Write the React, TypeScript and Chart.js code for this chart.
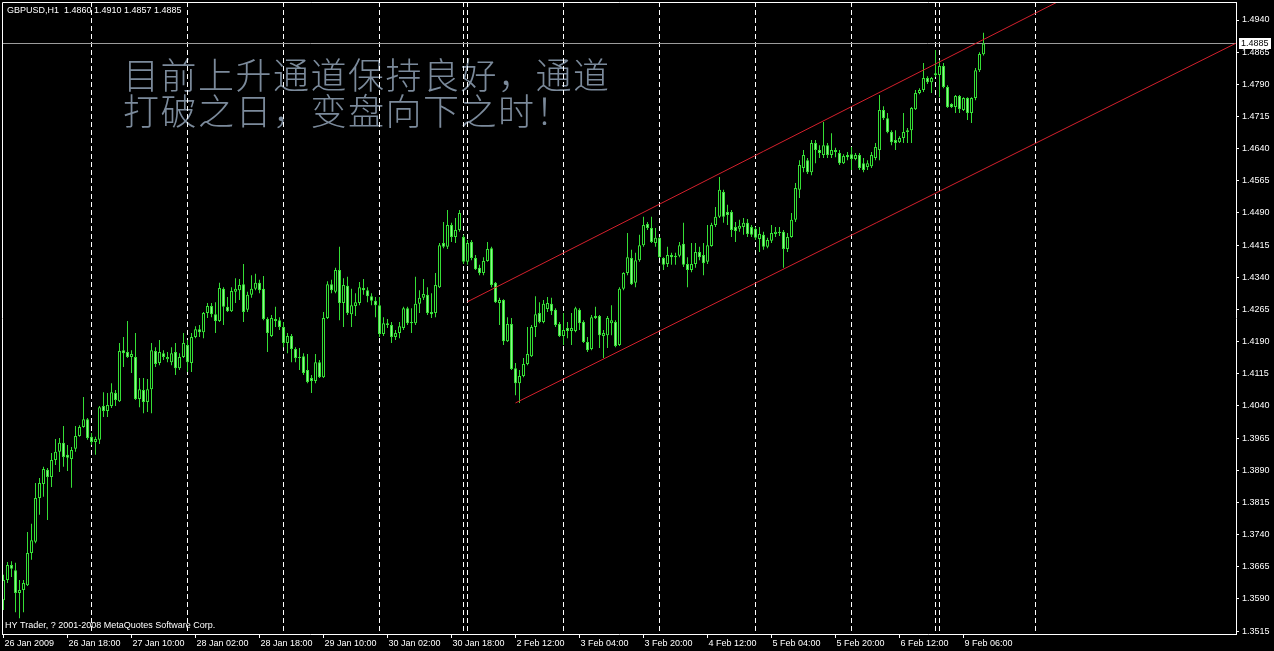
import React, { useEffect, useRef } from "react";
import { Chart, registerables } from "chart.js";

Chart.register(...registerables);

// ---- GBPUSD H1, 26 Jan 2009 02:00 .. 9 Feb 2009 11:00 (bar index = hour bar) ----
const SYMBOL = "GBPUSD,H1";
const COPYRIGHT = "HY Trader, ? 2001-2008 MetaQuotes Software Corp.";
const COMMENT_LINES = ["目前上升通道保持良好，通道", "打破之日，变盘向下之时！"];

const OPEN = [
  1.3587, 1.3634, 1.3669, 1.3657, 1.3604, 1.3611, 1.3622, 1.3697, 1.3723, 1.3825,
  1.3858, 1.3891, 1.3874, 1.3914, 1.3933, 1.3954, 1.3926, 1.3916, 1.3940, 1.3970,
  1.3991, 1.4009, 1.3968, 1.3956, 1.3961, 1.4040, 1.4028, 1.4040, 1.4070, 1.4051,
  1.4170, 1.4166, 1.4154, 1.4154, 1.4056, 1.4077, 1.4049, 1.4079, 1.4168, 1.4140,
  1.4163, 1.4149, 1.4142, 1.4166, 1.4128, 1.4154, 1.4182, 1.4140, 1.4201, 1.4219,
  1.4212, 1.4257, 1.4273, 1.4254, 1.4238, 1.4313, 1.4271, 1.4261, 1.4306, 1.4310,
  1.4324, 1.4264, 1.4299, 1.4313, 1.4327, 1.4313, 1.4243, 1.4203, 1.4243, 1.4240,
  1.4224, 1.4187, 1.4203, 1.4173, 1.4154, 1.4156, 1.4124, 1.4105, 1.4098, 1.4142,
  1.4107, 1.4245, 1.4324, 1.4306, 1.4357, 1.4280, 1.4320, 1.4254, 1.4273, 1.4280,
  1.4315, 1.4310, 1.4296, 1.4285, 1.4275, 1.4208, 1.4233, 1.4229, 1.4201, 1.4210,
  1.4222, 1.4268, 1.4236, 1.4233, 1.4278, 1.4292, 1.4299, 1.4259, 1.4257, 1.4317,
  1.4420, 1.4411, 1.4462, 1.4434, 1.4450, 1.4434, 1.4376, 1.4422, 1.4385, 1.4362,
  1.4350, 1.4378, 1.4408, 1.4327, 1.4280, 1.4287, 1.4191, 1.4231, 1.4128, 1.4093,
  1.4110, 1.4138, 1.4156, 1.4224, 1.4257, 1.4236, 1.4266, 1.4278, 1.4264, 1.4231,
  1.4203, 1.4222, 1.4215, 1.4215, 1.4264, 1.4236, 1.4189, 1.4173, 1.4250, 1.4250,
  1.4203, 1.4205, 1.4233, 1.4236, 1.4182, 1.4313, 1.4350, 1.4385, 1.4327, 1.4380,
  1.4415, 1.4464, 1.4455, 1.4420, 1.4432, 1.4385, 1.4371, 1.4392, 1.4387, 1.4390,
  1.4418, 1.4371, 1.4357, 1.4371, 1.4399, 1.4392, 1.4376, 1.4413, 1.4462, 1.4481,
  1.4539, 1.4492, 1.4492, 1.4457, 1.4453, 1.4457, 1.4467, 1.4457, 1.4453, 1.4429,
  1.4439, 1.4411, 1.4425, 1.4441, 1.4446, 1.4446, 1.4406, 1.4434, 1.4474, 1.4544,
  1.4595, 1.4613, 1.4585, 1.4653, 1.4637, 1.4625, 1.4648, 1.4625, 1.4637, 1.4630,
  1.4606, 1.4625, 1.4627, 1.4616, 1.4625, 1.4606, 1.4597, 1.4599, 1.4618, 1.4637,
  1.4730, 1.4711, 1.4679, 1.4660, 1.4655, 1.4665, 1.4679, 1.4683, 1.4732, 1.4770,
  1.4777, 1.4805, 1.4795, 1.4812, 1.4812, 1.4833, 1.4784, 1.4744, 1.4737, 1.4763,
  1.4730, 1.4758, 1.4723, 1.4758, 1.4823, 1.4860,
];

const HIGH = [
  1.3646, 1.3676, 1.3678, 1.3674, 1.3634, 1.3634, 1.3746, 1.3765, 1.3860, 1.3872,
  1.3898, 1.3895, 1.3930, 1.3963, 1.3965, 1.3993, 1.3949, 1.3944, 1.3993, 1.3995,
  1.4061, 1.4012, 1.3977, 1.3968, 1.4040, 1.4072, 1.4070, 1.4093, 1.4077, 1.4187,
  1.4201, 1.4238, 1.4170, 1.4210, 1.4105, 1.4105, 1.4103, 1.4187, 1.4177, 1.4194,
  1.4170, 1.4166, 1.4177, 1.4187, 1.4163, 1.4210, 1.4194, 1.4210, 1.4226, 1.4229,
  1.4259, 1.4280, 1.4280, 1.4282, 1.4327, 1.4317, 1.4294, 1.4317, 1.4338, 1.4336,
  1.4371, 1.4306, 1.4345, 1.4348, 1.4334, 1.4343, 1.4247, 1.4252, 1.4271, 1.4247,
  1.4236, 1.4210, 1.4208, 1.4177, 1.4175, 1.4163, 1.4161, 1.4112, 1.4161, 1.4147,
  1.4259, 1.4331, 1.4334, 1.4362, 1.4411, 1.4338, 1.4341, 1.4313, 1.4303, 1.4329,
  1.4336, 1.4317, 1.4303, 1.4294, 1.4294, 1.4247, 1.4243, 1.4236, 1.4217, 1.4236,
  1.4271, 1.4271, 1.4268, 1.4341, 1.4310, 1.4336, 1.4317, 1.4303, 1.4350, 1.4420,
  1.4469, 1.4497, 1.4467, 1.4478, 1.4497, 1.4439, 1.4427, 1.4427, 1.4392, 1.4369,
  1.4387, 1.4422, 1.4411, 1.4329, 1.4292, 1.4289, 1.4247, 1.4245, 1.4140, 1.4124,
  1.4152, 1.4224, 1.4229, 1.4296, 1.4282, 1.4287, 1.4294, 1.4292, 1.4268, 1.4236,
  1.4257, 1.4236, 1.4257, 1.4271, 1.4268, 1.4240, 1.4201, 1.4252, 1.4271, 1.4252,
  1.4217, 1.4250, 1.4275, 1.4240, 1.4317, 1.4352, 1.4443, 1.4404, 1.4397, 1.4439,
  1.4481, 1.4469, 1.4481, 1.4455, 1.4434, 1.4387, 1.4411, 1.4397, 1.4397, 1.4422,
  1.4467, 1.4387, 1.4420, 1.4420, 1.4411, 1.4420, 1.4462, 1.4467, 1.4504, 1.4574,
  1.4544, 1.4509, 1.4497, 1.4469, 1.4474, 1.4478, 1.4476, 1.4462, 1.4457, 1.4457,
  1.4446, 1.4432, 1.4462, 1.4457, 1.4457, 1.4450, 1.4443, 1.4490, 1.4560, 1.4613,
  1.4637, 1.4618, 1.4660, 1.4660, 1.4648, 1.4702, 1.4653, 1.4676, 1.4642, 1.4637,
  1.4627, 1.4632, 1.4644, 1.4630, 1.4630, 1.4618, 1.4613, 1.4632, 1.4653, 1.4765,
  1.4739, 1.4723, 1.4683, 1.4683, 1.4669, 1.4723, 1.4688, 1.4737, 1.4777, 1.4781,
  1.4840, 1.4809, 1.4807, 1.4870, 1.4847, 1.4840, 1.4788, 1.4746, 1.4765, 1.4765,
  1.4760, 1.4760, 1.4760, 1.4828, 1.4865, 1.4910,
];

const LOW = [
  1.3564, 1.3627, 1.3641, 1.3559, 1.3545, 1.3559, 1.3620, 1.3681, 1.3720, 1.3786,
  1.3828, 1.3774, 1.3851, 1.3902, 1.3886, 1.3898, 1.3888, 1.3849, 1.3933, 1.3968,
  1.3989, 1.3961, 1.3949, 1.3926, 1.3951, 1.4014, 1.4014, 1.4035, 1.4040, 1.4049,
  1.4131, 1.4152, 1.4117, 1.4054, 1.4037, 1.4023, 1.4026, 1.4023, 1.4131, 1.4135,
  1.4147, 1.4142, 1.4135, 1.4112, 1.4124, 1.4152, 1.4119, 1.4119, 1.4198, 1.4201,
  1.4198, 1.4245, 1.4247, 1.4210, 1.4236, 1.4229, 1.4259, 1.4259, 1.4280, 1.4287,
  1.4236, 1.4259, 1.4292, 1.4310, 1.4303, 1.4240, 1.4166, 1.4201, 1.4224, 1.4217,
  1.4177, 1.4163, 1.4142, 1.4142, 1.4124, 1.4112, 1.4093, 1.4070, 1.4093, 1.4105,
  1.4105, 1.4243, 1.4303, 1.4303, 1.4240, 1.4224, 1.4252, 1.4224, 1.4250, 1.4275,
  1.4299, 1.4282, 1.4275, 1.4247, 1.4201, 1.4203, 1.4222, 1.4187, 1.4194, 1.4198,
  1.4217, 1.4229, 1.4210, 1.4229, 1.4257, 1.4287, 1.4252, 1.4245, 1.4247, 1.4315,
  1.4408, 1.4406, 1.4422, 1.4420, 1.4446, 1.4371, 1.4369, 1.4380, 1.4357, 1.4345,
  1.4345, 1.4376, 1.4317, 1.4280, 1.4229, 1.4182, 1.4189, 1.4124, 1.4065, 1.4047,
  1.4107, 1.4135, 1.4154, 1.4201, 1.4233, 1.4233, 1.4259, 1.4252, 1.4224, 1.4201,
  1.4182, 1.4198, 1.4182, 1.4212, 1.4217, 1.4187, 1.4166, 1.4170, 1.4243, 1.4175,
  1.4152, 1.4175, 1.4205, 1.4177, 1.4180, 1.4310, 1.4345, 1.4322, 1.4317, 1.4376,
  1.4411, 1.4450, 1.4420, 1.4411, 1.4385, 1.4357, 1.4364, 1.4369, 1.4369, 1.4387,
  1.4364, 1.4317, 1.4352, 1.4362, 1.4380, 1.4345, 1.4371, 1.4411, 1.4457, 1.4478,
  1.4467, 1.4462, 1.4434, 1.4422, 1.4446, 1.4439, 1.4434, 1.4434, 1.4427, 1.4399,
  1.4404, 1.4408, 1.4420, 1.4434, 1.4436, 1.4362, 1.4399, 1.4432, 1.4469, 1.4525,
  1.4585, 1.4581, 1.4578, 1.4606, 1.4618, 1.4618, 1.4618, 1.4618, 1.4620, 1.4602,
  1.4604, 1.4613, 1.4590, 1.4613, 1.4590, 1.4585, 1.4590, 1.4595, 1.4613, 1.4613,
  1.4707, 1.4676, 1.4648, 1.4637, 1.4653, 1.4653, 1.4653, 1.4653, 1.4730, 1.4767,
  1.4772, 1.4791, 1.4770, 1.4807, 1.4760, 1.4781, 1.4735, 1.4735, 1.4723, 1.4723,
  1.4728, 1.4707, 1.4700, 1.4753, 1.4819, 1.4857,
];

const CLOSE = [
  1.3634, 1.3669, 1.3660, 1.3604, 1.3611, 1.3627, 1.3697, 1.3727, 1.3825, 1.3860,
  1.3893, 1.3874, 1.3914, 1.3933, 1.3954, 1.3921, 1.3919, 1.3937, 1.3970, 1.3991,
  1.4009, 1.3965, 1.3956, 1.3963, 1.4037, 1.4028, 1.4042, 1.4072, 1.4054, 1.4168,
  1.4163, 1.4154, 1.4161, 1.4056, 1.4079, 1.4049, 1.4079, 1.4170, 1.4138, 1.4166,
  1.4154, 1.4154, 1.4163, 1.4128, 1.4154, 1.4187, 1.4142, 1.4201, 1.4219, 1.4212,
  1.4257, 1.4273, 1.4254, 1.4238, 1.4315, 1.4271, 1.4261, 1.4308, 1.4313, 1.4322,
  1.4259, 1.4299, 1.4313, 1.4327, 1.4310, 1.4243, 1.4210, 1.4245, 1.4238, 1.4224,
  1.4187, 1.4203, 1.4173, 1.4152, 1.4152, 1.4117, 1.4096, 1.4098, 1.4142, 1.4107,
  1.4245, 1.4324, 1.4310, 1.4357, 1.4280, 1.4322, 1.4257, 1.4275, 1.4282, 1.4317,
  1.4310, 1.4296, 1.4285, 1.4275, 1.4208, 1.4233, 1.4229, 1.4201, 1.4210, 1.4226,
  1.4268, 1.4233, 1.4233, 1.4278, 1.4292, 1.4301, 1.4257, 1.4254, 1.4322, 1.4415,
  1.4411, 1.4462, 1.4434, 1.4450, 1.4490, 1.4376, 1.4420, 1.4385, 1.4359, 1.4350,
  1.4378, 1.4406, 1.4322, 1.4282, 1.4287, 1.4191, 1.4231, 1.4126, 1.4093, 1.4110,
  1.4138, 1.4161, 1.4224, 1.4254, 1.4236, 1.4278, 1.4280, 1.4261, 1.4229, 1.4203,
  1.4217, 1.4215, 1.4222, 1.4268, 1.4233, 1.4189, 1.4170, 1.4247, 1.4245, 1.4205,
  1.4210, 1.4245, 1.4240, 1.4180, 1.4313, 1.4350, 1.4387, 1.4324, 1.4380, 1.4415,
  1.4462, 1.4455, 1.4422, 1.4432, 1.4387, 1.4369, 1.4392, 1.4387, 1.4390, 1.4415,
  1.4369, 1.4357, 1.4371, 1.4399, 1.4387, 1.4373, 1.4415, 1.4462, 1.4481, 1.4544,
  1.4481, 1.4485, 1.4450, 1.4448, 1.4460, 1.4467, 1.4441, 1.4439, 1.4432, 1.4441,
  1.4411, 1.4427, 1.4443, 1.4446, 1.4443, 1.4406, 1.4434, 1.4474, 1.4548, 1.4602,
  1.4625, 1.4585, 1.4653, 1.4637, 1.4630, 1.4648, 1.4625, 1.4637, 1.4632, 1.4606,
  1.4623, 1.4620, 1.4616, 1.4625, 1.4595, 1.4590, 1.4606, 1.4625, 1.4644, 1.4730,
  1.4711, 1.4679, 1.4655, 1.4653, 1.4665, 1.4679, 1.4683, 1.4735, 1.4770, 1.4777,
  1.4805, 1.4795, 1.4805, 1.4816, 1.4833, 1.4784, 1.4737, 1.4737, 1.4763, 1.4732,
  1.4758, 1.4723, 1.4758, 1.4823, 1.4861, 1.4885,
];

// time axis: one label every 16 hourly bars
const TIME_TICK_BARS = [0, 16, 32, 48, 64, 80, 96, 112, 128, 144, 160, 176, 192, 208, 224, 240];
const TIME_LABELS = [
  "26 Jan 2009", "26 Jan 18:00", "27 Jan 10:00", "28 Jan 02:00", "28 Jan 18:00",
  "29 Jan 10:00", "30 Jan 02:00", "30 Jan 18:00", "2 Feb 12:00", "3 Feb 04:00",
  "3 Feb 20:00", "4 Feb 12:00", "5 Feb 04:00", "5 Feb 20:00", "6 Feb 12:00", "9 Feb 06:00",
];

// price axis labels
const PRICE_TICKS = [
  1.3515, 1.359, 1.3665, 1.374, 1.3815, 1.389, 1.3965, 1.404, 1.4115, 1.419,
  1.4265, 1.434, 1.4415, 1.449, 1.4565, 1.464, 1.4715, 1.479, 1.4865, 1.494,
];

// day separators (bar index of each new trading day)
const SEPARATOR_BARS = [22, 46, 70, 94, 115, 116, 140, 164, 188, 212, 233, 234, 258];

// rising channel anchors (bar index, price)
const UPPER_CHANNEL_BARS = [116, 266];
const UPPER_CHANNEL_PRICES = [1.4283, 1.4994];
const LOWER_CHANNEL_BARS = [128, 309];
const LOWER_CHANNEL_PRICES = [1.4047, 1.489];

// visible window
const X_MIN = -0.375;
const X_MAX = 308.125;
const Y_MIN = 1.35081;
const Y_MAX = 1.4982;

const GREEN = "#35de35";
const BEAR_FILL = "#8ef58e";
const CHANNEL_RED = "#d4202c";
const AXIS_FONT = { family: "'Liberation Sans', Arial, sans-serif", size: 9 };

const noEdgePadding = (s: any) => {
  s.paddingTop = 0;
  s.paddingBottom = 0;
  s.paddingLeft = 0;
  s.paddingRight = 0;
};

const mtOverlay = {
  id: "mtOverlay",
  beforeDatasetsDraw(chart: any) {
    const { ctx, chartArea, scales } = chart;
    const xs = scales.x;
    const ys = scales.y;
    ctx.save();

    // chart comment
    ctx.font = "300 36px 'Noto Sans CJK SC', sans-serif";
    ctx.fillStyle = "#7b8a9b";
    ctx.textAlign = "left";
    ctx.textBaseline = "alphabetic";
    (ctx as any).letterSpacing = "1.5px";
    ctx.fillText(COMMENT_LINES[0], chartArea.left + 121, chartArea.top + 86.5);
    ctx.fillText(COMMENT_LINES[1], chartArea.left + 121, chartArea.top + 123);
    (ctx as any).letterSpacing = "0px";

    // period separators
    ctx.beginPath();
    ctx.rect(chartArea.left, chartArea.top, chartArea.right - chartArea.left, chartArea.bottom - chartArea.top);
    ctx.clip();
    ctx.strokeStyle = "#ffffff";
    ctx.lineWidth = 1;
    ctx.setLineDash([5, 3]);
    for (const b of SEPARATOR_BARS) {
      const px = Math.floor(xs.getPixelForValue(b)) + 0.5;
      if (px < chartArea.left || px > chartArea.right) continue;
      ctx.beginPath();
      ctx.moveTo(px, chartArea.top);
      ctx.lineTo(px, chartArea.bottom);
      ctx.stroke();
    }
    ctx.setLineDash([]);

    // last price line
    const last = CLOSE.length - 1;
    const py = Math.floor(ys.getPixelForValue(CLOSE[last])) + 0.5;
    ctx.strokeStyle = "#9c9c9c";
    ctx.beginPath();
    ctx.moveTo(chartArea.left, py);
    ctx.lineTo(chartArea.right, py);
    ctx.stroke();
    ctx.restore();
  },
  afterDraw(chart: any) {
    const { ctx, chartArea, scales } = chart;
    const ys = scales.y;
    const last = CLOSE.length - 1;
    ctx.save();

    // frame (top + left edges; right and bottom come from the axes)
    ctx.strokeStyle = "#ffffff";
    ctx.lineWidth = 1;
    ctx.beginPath();
    ctx.moveTo(chartArea.left + 0.5, chartArea.bottom);
    ctx.lineTo(chartArea.left + 0.5, chartArea.top + 0.5);
    ctx.lineTo(chartArea.right + 1, chartArea.top + 0.5);
    ctx.stroke();

    // header and copyright
    ctx.font = `${AXIS_FONT.size}px ${AXIS_FONT.family}`;
    ctx.fillStyle = "#ffffff";
    ctx.textAlign = "left";
    ctx.textBaseline = "middle";
    const header = `${SYMBOL}  ${OPEN[last].toFixed(4)} ${HIGH[last].toFixed(4)} ${LOW[last].toFixed(4)} ${CLOSE[last].toFixed(4)}`;
    ctx.fillText(header, chartArea.left + 5, chartArea.top + 9);
    ctx.fillText(COPYRIGHT, chartArea.left + 3, chartArea.bottom - 8);

    // last price marker on the price axis
    const py = ys.getPixelForValue(CLOSE[last]);
    const bx = chartArea.right + 3;
    ctx.fillStyle = "#ffffff";
    ctx.fillRect(bx, Math.round(py) - 6, 32, 11);
    ctx.fillStyle = "#000000";
    ctx.fillText(CLOSE[last].toFixed(4), bx + 2, Math.round(py));
    ctx.restore();
  },
};

export default function App() {
  const canvasRef = useRef<HTMLCanvasElement | null>(null);

  useEffect(() => {
    document.body.style.margin = "0";
    document.body.style.background = "#000";
    const canvas = canvasRef.current;
    if (!canvas) return;

    const idx = OPEN.map((_, i) => i);
    const wickData = idx.map((i) => ({ x: i, y: [LOW[i], HIGH[i]] }));
    const bodyData = idx.map((i) => ({ x: i, y: [OPEN[i], CLOSE[i]] }));
    const bodyFill = idx.map((i) => (CLOSE[i] >= OPEN[i] ? "#000000" : BEAR_FILL));

    const chart = new Chart(canvas, {
      type: "bar",
      data: {
        datasets: [
          {
            type: "bar",
            label: "wick",
            data: wickData as any,
            backgroundColor: GREEN,
            borderWidth: 0,
            barThickness: 1,
            grouped: false,
            inflateAmount: 0,
            order: 3,
          } as any,
          {
            type: "bar",
            label: "body",
            data: bodyData as any,
            backgroundColor: bodyFill,
            borderColor: GREEN,
            borderWidth: 1,
            borderSkipped: false,
            barThickness: 3,
            minBarLength: 1,
            grouped: false,
            inflateAmount: 0,
            order: 2,
          } as any,
          {
            type: "line",
            label: "upper",
            data: UPPER_CHANNEL_BARS.map((b, i) => ({ x: b, y: UPPER_CHANNEL_PRICES[i] })),
            borderColor: CHANNEL_RED,
            borderWidth: 1,
            pointRadius: 0,
            order: 1,
          } as any,
          {
            type: "line",
            label: "lower",
            data: LOWER_CHANNEL_BARS.map((b, i) => ({ x: b, y: LOWER_CHANNEL_PRICES[i] })),
            borderColor: CHANNEL_RED,
            borderWidth: 1,
            pointRadius: 0,
            order: 1,
          } as any,
        ],
      },
      options: {
        animation: false,
        responsive: false,
        maintainAspectRatio: false,
        events: [],
        layout: { padding: { left: 2, top: 2, right: 0, bottom: 0 } },
        plugins: { legend: { display: false }, tooltip: { enabled: false } },
        scales: {
          x: {
            type: "linear",
            min: X_MIN,
            max: X_MAX,
            bounds: "data",
            offset: false,
            afterBuildTicks: (s: any) => {
              s.ticks = TIME_TICK_BARS.map((v) => ({ value: v }));
            },
            afterFit: (s: any) => {
              s.height = 17;
              noEdgePadding(s);
            },
            ticks: {
              autoSkip: false,
              maxRotation: 0,
              minRotation: 0,
              align: "start",
              labelOffset: 1,
              padding: 0,
              color: "#ffffff",
              font: AXIS_FONT,
              callback: (_v: any, i: number) => TIME_LABELS[i],
            },
            grid: { drawOnChartArea: false, drawTicks: true, tickLength: 4, color: "#ffffff", offset: false },
            border: { display: true, color: "#ffffff" },
          },
          y: {
            type: "linear",
            position: "right",
            min: Y_MIN,
            max: Y_MAX,
            bounds: "data",
            afterBuildTicks: (s: any) => {
              s.ticks = PRICE_TICKS.map((v) => ({ value: v }));
            },
            afterFit: (s: any) => {
              s.width = 38;
              noEdgePadding(s);
            },
            ticks: {
              autoSkip: false,
              padding: 3,
              color: "#ffffff",
              font: AXIS_FONT,
              callback: (v: any) => Number(v).toFixed(4),
            },
            grid: { drawOnChartArea: false, drawTicks: true, tickLength: 3, color: "#ffffff" },
            border: { display: true, color: "#ffffff" },
          },
        },
      },
      plugins: [mtOverlay],
    });

    return () => chart.destroy();
  }, []);

  return (
    <div style={{ width: 1274, height: 651, background: "#000" }}>
      <canvas ref={canvasRef} width={1274} height={651} style={{ display: "block" }} />
    </div>
  );
}
